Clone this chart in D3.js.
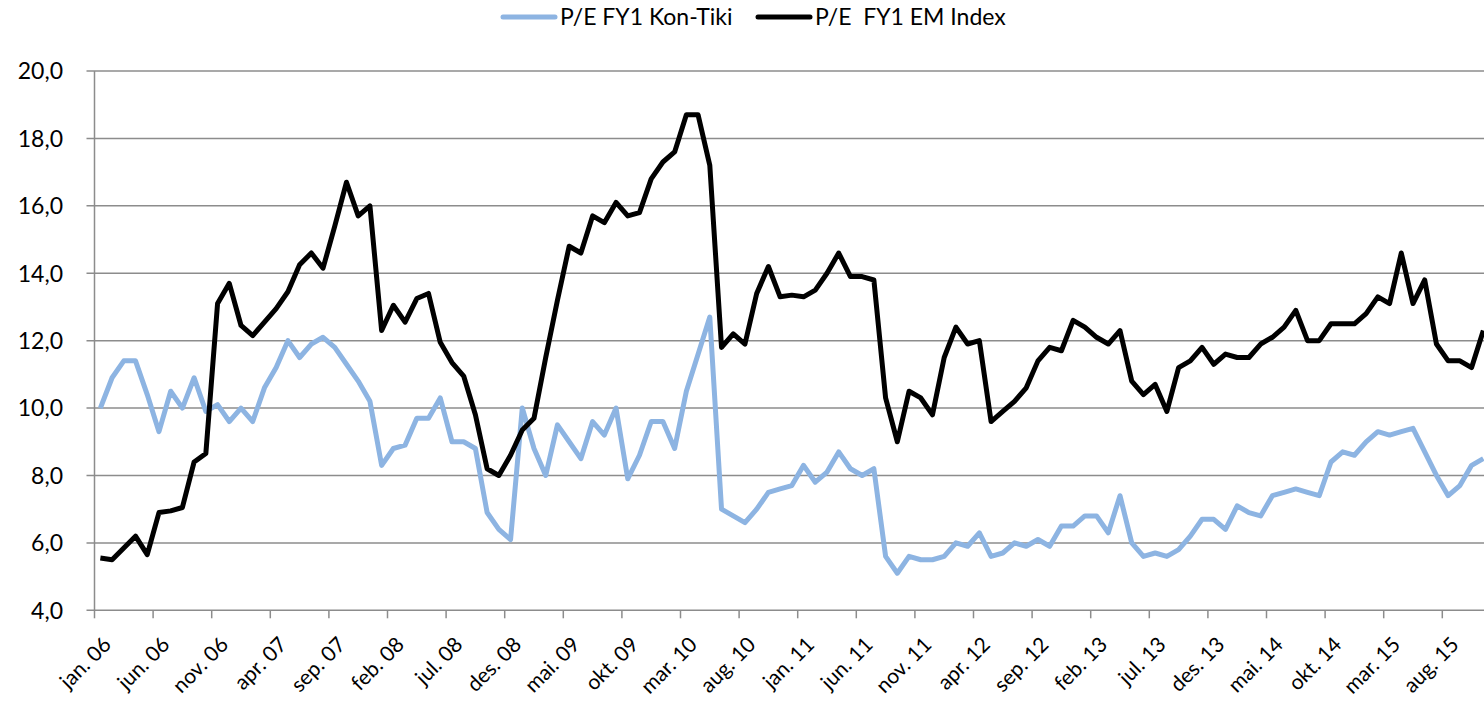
<!DOCTYPE html>
<html>
<head>
<meta charset="utf-8">
<script src="https://cdn.jsdelivr.net/npm/d3@7"></script>
<style>
  body { margin: 0; background: #fff; }
  svg { display: block; font-family: Lato, "Open Sans", sans-serif; }
</style>
</head>
<body>
<div class="myChart"></div>
<script>
var svgWidth = 1484;
var svgHeight = 703;

// monthly values, jan. 06 onwards
var konTiki = [
  10.0, 10.9, 11.4, 11.4, 10.4, 9.3, 10.5, 10.0, 10.9, 9.9,
  10.1, 9.6, 10.0, 9.6, 10.6, 11.2, 12.0, 11.5, 11.9, 12.1,
  11.8, 11.3, 10.8, 10.2, 8.3, 8.8, 8.9, 9.7, 9.7, 10.3,
  9.0, 9.0, 8.8, 6.9, 6.4, 6.1, 10.0, 8.8, 8.0, 9.5,
  9.0, 8.5, 9.6, 9.2, 10.0, 7.9, 8.6, 9.6, 9.6, 8.8,
  10.5, 11.6, 12.7, 7.0, 6.8, 6.6, 7.0, 7.5, 7.6, 7.7,
  8.3, 7.8, 8.1, 8.7, 8.2, 8.0, 8.2, 5.6, 5.1, 5.6,
  5.5, 5.5, 5.6, 6.0, 5.9, 6.3, 5.6, 5.7, 6.0, 5.9,
  6.1, 5.9, 6.5, 6.5, 6.8, 6.8, 6.3, 7.4, 6.0, 5.6,
  5.7, 5.6, 5.8, 6.2, 6.7, 6.7, 6.4, 7.1, 6.9, 6.8,
  7.4, 7.5, 7.6, 7.5, 7.4, 8.4, 8.7, 8.6, 9.0, 9.3,
  9.2, 9.3, 9.4, 8.7, 8.0, 7.4, 7.7, 8.3, 8.5
];
var emIndex = [
  5.55, 5.5, 5.85, 6.2, 5.65, 6.9, 6.95, 7.05, 8.4, 8.65,
  13.1, 13.7, 12.45, 12.15, 12.55, 12.95, 13.45, 14.25, 14.6, 14.15,
  15.4, 16.7, 15.7, 16.0, 12.3, 13.05, 12.55, 13.25, 13.4, 11.95,
  11.35, 10.95, 9.8, 8.2, 8.0, 8.6, 9.35, 9.7, 11.5, 13.2,
  14.8, 14.6, 15.7, 15.5, 16.1, 15.7, 15.8, 16.8, 17.3, 17.6,
  18.7, 18.7, 17.2, 11.8, 12.2, 11.9, 13.4, 14.2, 13.3, 13.35,
  13.3, 13.5, 14.0, 14.6, 13.9, 13.9, 13.8, 10.3, 9.0, 10.5,
  10.3, 9.8, 11.5, 12.4, 11.9, 12.0, 9.6, 9.9, 10.2, 10.6,
  11.4, 11.8, 11.7, 12.6, 12.4, 12.1, 11.9, 12.3, 10.8, 10.4,
  10.7, 9.9, 11.2, 11.4, 11.8, 11.3, 11.6, 11.5, 11.5, 11.9,
  12.1, 12.4, 12.9, 12.0, 12.0, 12.5, 12.5, 12.5, 12.8, 13.3,
  13.1, 14.6, 13.1, 13.8, 11.9, 11.4, 11.4, 11.2, 12.3
];
// one label every fifth month
var tickLabels = ["jan. 06", "jun. 06", "nov. 06", "apr. 07", "sep. 07", "feb. 08",
  "jul. 08", "des. 08", "mai. 09", "okt. 09", "mar. 10", "aug. 10",
  "jan. 11", "jun. 11", "nov. 11", "apr. 12", "sep. 12", "feb. 13",
  "jul. 13", "des. 13", "mai. 14", "okt. 14", "mar. 15", "aug. 15"];
var yTicks = [4, 6, 8, 10, 12, 14, 16, 18, 20];
var seriesNames = ["P/E FY1 Kon-Tiki", "P/E\u00a0 FY1 EM Index"];

var nCats = 120;
var plotLeft = 94.5;
var catWidth = 11.72;

var svg = d3.select(".myChart")
  .append("svg")
  .attr("width", svgWidth)
  .attr("height", svgHeight);

var xScale = d3.scaleLinear()
  .domain([0, nCats])
  .range([plotLeft, plotLeft + nCats * catWidth]);
var yScale = d3.scaleLinear()
  .domain([4, 20])
  .range([610.3, 71]);

// grid lines + y ticks
svg.append("g")
  .selectAll("line")
  .data(yTicks)
  .enter().append("line")
    .attr("x1", plotLeft - 8)
    .attr("x2", xScale(nCats))
    .attr("y1", function(d) { return yScale(d); })
    .attr("y2", function(d) { return yScale(d); })
    .attr("stroke", "#8c8c8c")
    .attr("stroke-width", 1.5);

svg.append("g")
  .selectAll("text")
  .data(yTicks)
  .enter().append("text")
    .attr("x", 63)
    .attr("y", function(d) { return yScale(d); })
    .attr("dy", "0.36em")
    .attr("text-anchor", "end")
    .attr("font-size", 23)
    .attr("fill", "#000")
    .text(function(d) { return d3.format(".1f")(d).replace(".", ","); });

// y axis line
svg.append("line")
  .attr("x1", plotLeft).attr("x2", plotLeft)
  .attr("y1", yScale(20)).attr("y2", yScale(4))
  .attr("stroke", "#8c8c8c")
  .attr("stroke-width", 1.5);

// x ticks and labels
var tickIdx = d3.range(tickLabels.length).map(function(k) { return k * 5; });
svg.append("g")
  .selectAll("line")
  .data(tickIdx)
  .enter().append("line")
    .attr("x1", function(d) { return xScale(d); })
    .attr("x2", function(d) { return xScale(d); })
    .attr("y1", yScale(4))
    .attr("y2", yScale(4) + 8)
    .attr("stroke", "#8c8c8c")
    .attr("stroke-width", 1.5);

svg.append("g")
  .selectAll("text")
  .data(tickLabels)
  .enter().append("text")
    .attr("transform", function(d, k) {
      return "translate(" + (xScale(k * 5 + 0.5) + 12) + "," + 646 + ") rotate(-45)";
    })
    .attr("text-anchor", "end")
    .attr("font-size", 21)
    .attr("fill", "#000")
    .text(function(d) { return d; });

// lines
var line = d3.line()
  .x(function(d, i) { return xScale(i + 0.5); })
  .y(function(d) { return yScale(d); });

svg.append("path")
  .datum(konTiki)
  .attr("d", line)
  .attr("fill", "none")
  .attr("stroke", "#8db4e2")
  .attr("stroke-width", 5)
  .attr("stroke-linejoin", "round");

svg.append("path")
  .datum(emIndex)
  .attr("d", line)
  .attr("fill", "none")
  .attr("stroke", "#000")
  .attr("stroke-width", 5)
  .attr("stroke-linejoin", "round");

// legend
var legend = svg.append("g");
var legendItems = [
  { name: seriesNames[0], color: "#8db4e2", x: 503 },
  { name: seriesNames[1], color: "#000", x: 758 }
];
legendItems.forEach(function(item) {
  legend.append("line")
    .attr("x1", item.x).attr("x2", item.x + 52)
    .attr("y1", 17).attr("y2", 17)
    .attr("stroke", item.color)
    .attr("stroke-width", 5)
    .attr("stroke-linecap", "round");
  legend.append("text")
    .attr("x", item.x + 57)
    .attr("y", 17)
    .attr("dy", "0.36em")
    .attr("font-size", 23)
    .attr("fill", "#000")
    .text(item.name);
});
</script>
</body>
</html>
